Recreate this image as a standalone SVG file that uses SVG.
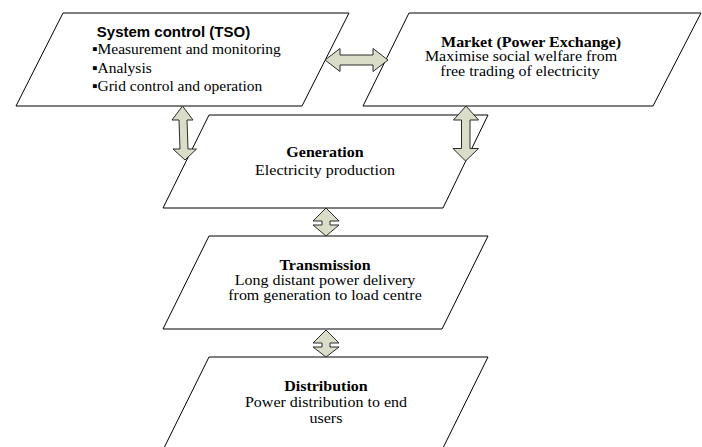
<svg xmlns="http://www.w3.org/2000/svg" width="702" height="447" viewBox="0 0 702 447">
<style>
.box{fill:#ffffff;stroke:#000000;stroke-width:1}
.arr{fill:#dadec8;stroke:#2a2a2a;stroke-width:1;stroke-linejoin:miter}
.t{font-family:"Liberation Serif","Times New Roman",serif;font-size:16px;fill:#000}
.tb{font-family:"Liberation Serif","Times New Roman",serif;font-size:16px;font-weight:bold;fill:#000}
.ts{font-family:"Liberation Serif","Times New Roman",serif;font-size:15.5px;fill:#000}
.sb{font-family:"Liberation Sans",Arial,sans-serif;font-size:15px;font-weight:bold;fill:#000}
</style>
<rect width="702" height="447" fill="#ffffff"/>
<g id="system-control">
<polygon class="box" points="63,13 349,13 302,106 16,106"/>
<text class="sb" x="173.5" y="36.5" text-anchor="middle">System control (TSO)</text>
<text class="ts" x="92" y="54">▪Measurement and monitoring</text>
<text class="ts" x="92" y="72.5">▪Analysis</text>
<text class="ts" x="92" y="91">▪Grid control and operation</text>
</g>
<g id="market">
<polygon class="box" points="409,13 701,13 653,106 363,106"/>
<text class="tb" x="531" y="0" text-anchor="middle" transform="matrix(1 0 0 0.86 0 46.5)">Market (Power Exchange)</text>
<text class="t" x="521" y="0" text-anchor="middle" transform="matrix(1 0 0 0.86 0 61)">Maximise social welfare from</text>
<text class="t" x="520" y="0" text-anchor="middle" transform="matrix(1 0 0 0.86 0 75.5)">free trading of electricity</text>
</g>
<g id="generation">
<polygon class="box" points="209,115 488,115 443,208 163,208"/>
<text class="tb" x="325" y="0" text-anchor="middle" transform="matrix(1 0 0 0.86 0 157)">Generation</text>
<text class="t" x="325" y="0" text-anchor="middle" transform="matrix(1 0 0 0.86 0 175)">Electricity production</text>
</g>
<g id="transmission">
<polygon class="box" points="209,236 488,236 442,329 163,329"/>
<text class="tb" x="325" y="0" text-anchor="middle" transform="matrix(1 0 0 0.86 0 270)">Transmission</text>
<text class="t" x="325" y="0" text-anchor="middle" transform="matrix(1 0 0 0.86 0 285)">Long distant power delivery</text>
<text class="t" x="325" y="0" text-anchor="middle" transform="matrix(1 0 0 0.86 0 300)">from generation to load centre</text>
</g>
<g id="distribution">
<polygon class="box" points="209,357 488,357 442,450 163,450"/>
<text class="tb" x="326" y="0" text-anchor="middle" transform="matrix(1 0 0 0.86 0 391)">Distribution</text>
<text class="t" x="326" y="0" text-anchor="middle" transform="matrix(1 0 0 0.86 0 407)">Power distribution to end</text>
<text class="t" x="326" y="0" text-anchor="middle" transform="matrix(1 0 0 0.86 0 422.5)">users</text>
</g>
<g id="connectors">
<polygon class="arr" points="325,60 340,48.5 340,55 373,55 373,48.5 388,60 373,71.5 373,65 340,65 340,71.5"/>
<polygon class="arr" points="182.5,106 193,120 187,120 188,149 196.5,149 185,160 173,149 180,149 179,120 172,120"/>
<polygon class="arr" points="466,106 478.5,120 470,120 470,148.5 478.5,148.5 465.5,161 453,148.5 461.5,148.5 461.5,120 453.5,120"/>
<polygon class="arr" points="326,208 339,221 330,221 330,225 339,225 326,236 313,225 322,225 322,221 313,221"/>
<polygon class="arr" points="326,330 339,343 330,343 330,347 339,347 326,357 313,347 322,347 322,343 313,343"/>
</g>
</svg>
